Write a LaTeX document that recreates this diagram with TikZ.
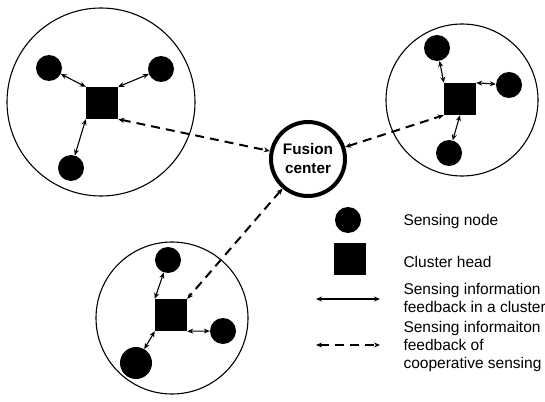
\documentclass[tikz,border=0pt]{standalone}
\usepackage{fontspec}
\setmainfont{Liberation Sans}
\usetikzlibrary{arrows.meta}
\tikzset{
  sensor/.style={circle,fill=black,minimum size=26pt,inner sep=0pt},
  head/.style={rectangle,fill=black,minimum size=32pt,inner sep=0pt},
  link/.style={{Stealth[length=6pt,width=5pt]}-{Stealth[length=6pt,width=5pt]},line width=1.1pt},
  coop/.style={link,line width=2pt,dash pattern=on 9pt off 6pt},
  cluster/.style={line width=1.1pt},
  legend/.style={anchor=west,align=left,font=\fontsize{15.5}{18}\selectfont},
}

\begin{document}
\begin{tikzpicture}[x=1pt,y=-1pt]
    \useasboundingbox (0,0) rectangle (545,401);

    % clusters
    \draw[cluster] (101,102) circle (94pt);
    \draw[cluster] (462,100) circle (76pt);
    \draw[cluster] (172,318) circle (76pt);

    % fusion center
    \node[circle,draw,line width=4pt,minimum size=74pt,inner sep=0pt,align=center,
          font=\bfseries\fontsize{15.3}{19}\selectfont] (fc) at (308,159) {Fusion\\center};

    % cluster 1
    \node[head] (h1) at (102,103) {};
    \node[sensor] (s11) at (49,68) {};
    \node[sensor] (s12) at (161,69) {};
    \node[sensor] (s13) at (71,168) {};
    \draw[link] (s11) -- (h1.north west);
    \draw[link] (s12) -- (h1.north east);
    \draw[link] (s13) -- (h1.south west);

    % cluster 2
    \node[head] (h2) at (460,99) {};
    \node[sensor] (s21) at (437,48) {};
    \node[sensor] (s22) at (509,85) {};
    \node[sensor] (s23) at (449,153) {};
    \draw[link] (s21) -- (h2.north west);
    \draw[link] (s22) -- (h2.north east);
    \draw[link] (s23) -- (h2.south);

    % cluster 3
    \node[head] (h3) at (171,315) {};
    \node[sensor] (s31) at (168,260) {};
    \node[sensor] (s32) at (223,331) {};
    \node[sensor,minimum size=32pt] (s33) at (136,363) {};
    \draw[link] (s31) -- (h3.north west);
    \draw[link] (s32) -- (h3.south east);
    \draw[link] (s33) -- (h3.south west);

    % cooperative sensing
    \draw[coop] (h1.south east) -- (fc);
    \draw[coop] (fc) -- (h2.south west);
    \draw[coop] (fc) -- (h3.north east);

    % legend
    \node[sensor] (lsensor) at (348,220) {};
    \node[head] (lhead) at (350,259) {};
    \coordinate (la1) at (316,299);
    \coordinate (lb1) at (380,299);
    \coordinate (la2) at (316,345);
    \coordinate (lb2) at (380,345);
    \draw[link] (la1) -- (lb1);
    \draw[coop] (la2) -- (lb2);
    \node[legend] (t1) at (400,221) {Sensing node};
    \node[legend] (t2) at (400,262) {Cluster head};
    \node[legend] (t3) at (400,298) {Sensing information\\feedback in a cluster};
    \node[legend] (t4) at (400,346) {Sensing informaiton\\feedback of\\cooperative sensing};
\end{tikzpicture}
\end{document}
